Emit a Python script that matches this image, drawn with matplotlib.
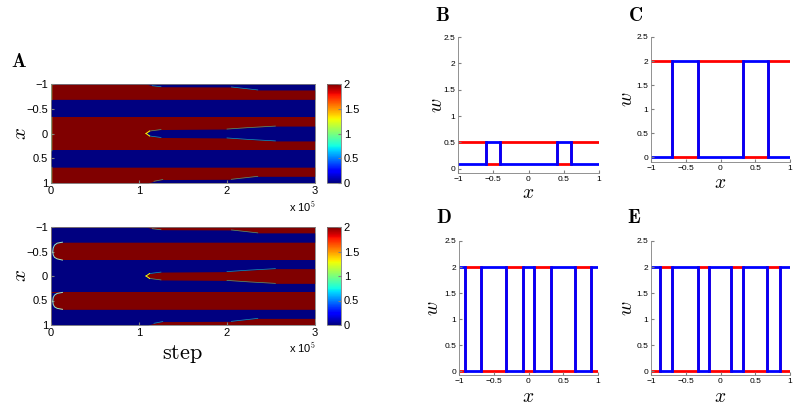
import numpy as np
import matplotlib
matplotlib.use('Agg')
import matplotlib.pyplot as plt
from matplotlib import cm, colors

plt.rcParams['mathtext.fontset'] = 'cm'
plt.rcParams['font.family'] = ['Liberation Sans', 'DejaVu Sans']

################################################################################
# panel A: band layout of the two space-time plots (x vs step)

band_x = [-0.69, -0.325, 0.335, 0.68]
top_edge_step = [0, 1.08e5, 1.15e5, 1.25e5, 2.05e5, 2.35e5, 3.0e5]
top_edge_x = [-1, -1, -0.965, -0.945, -0.94, -0.88, -0.88]
bot_edge_step = [0, 1.10e5, 1.17e5, 1.27e5, 2.05e5, 2.35e5, 3.0e5]
bot_edge_x = [1, 1, 0.965, 0.93, 0.925, 0.865, 0.865]
split_step = [1.08e5, 1.12e5, 1.25e5, 2.0e5, 2.25e5, 2.55e5, 3.0e5]
split_half = [0, 0.05, 0.08, 0.09, 0.12, 0.15, 0.15]
front1_x = [-0.69, -0.67, -0.63, -0.57, -0.5, -0.43, -0.38, -0.35, -0.325]
front2_x = [0.335, 0.355, 0.39, 0.44, 0.51, 0.58, 0.63, 0.66, 0.68]
front_step = [0.13e5, 0.07e5, 0.04e5, 0.025e5, 0.02e5, 0.025e5, 0.04e5, 0.07e5, 0.13e5]
step_ticks = [0, 1e5, 2e5, 3e5]
step_labels = ['0', '1', '2', '3']
xpos_ticks = [-1, -0.5, 0, 0.5, 1]
xpos_labels = ['\u22121', '\u22120.5', '0', '0.5', '1']

# panels B-E: w profiles (piecewise constant)
B_edges = [-1, -0.6, -0.4, 0.4, 0.6, 1]
B_red = [0.5, 0.1, 0.5, 0.1, 0.5]
B_blue = [0.1, 0.5, 0.1, 0.5, 0.1]
C_edges = [-1, -0.7, -0.33, 0.33, 0.68, 1]
C_red = [2, 0, 2, 0, 2]
C_blue = [0, 2, 0, 2, 0]
D_edges = [-1, -0.92, -0.68, -0.33, -0.085, 0.085, 0.33, 0.67, 0.9, 1]
D_red = [0, 2, 0, 2, 0, 2, 0, 2, 0]
D_blue = [2, 0, 2, 0, 2, 0, 2, 0, 2]
E_edges = [-1, -0.87, -0.7, -0.33, -0.16, 0.15, 0.33, 0.67, 0.86, 1]
E_red = [0, 2, 0, 2, 0, 2, 0, 2, 0]
E_blue = [2, 0, 2, 0, 2, 0, 2, 0, 2]
w_ticks = [0, 0.5, 1, 1.5, 2, 2.5]
w_labels = ['0', '0.5', '1', '1.5', '2', '2.5']

################################################################################

W, H = 800, 409
fig = plt.figure(figsize=(W / 100, H / 100), dpi=100)

def px_axes(l, t, r, b):
    return fig.add_axes([l / W, 1 - b / H, (r - l) / W, (b - t) / H])

def px_text(x, y, s, **kw):
    fig.text(x / W, 1 - y / H, s, ha='center', va='center', **kw)

jet = matplotlib.colormaps['jet']
norm = colors.Normalize(0, 2)
red_c = jet(norm(2))
blue_c = jet(norm(0))
streak = jet(0.4)
grey = '#808080'

def style_heat(ax):
    ax.set_xlim(0, 3e5)
    ax.set_ylim(1, -1)
    ax.set_xticks(step_ticks)
    ax.set_xticklabels(step_labels)
    ax.set_yticks(xpos_ticks)
    ax.set_yticklabels(xpos_labels)
    ax.tick_params(direction='in', length=2.5, labelsize=8, color=grey, pad=2)
    for s in ax.spines.values():
        s.set_color(grey)
        s.set_linewidth(0.6)

def draw_bands(ax, fg, bg):
    ax.set_facecolor(bg)
    ax.fill_between(top_edge_step, top_edge_x, band_x[0], color=fg, lw=0)
    ax.fill_between([0, 3e5], band_x[1], band_x[2], color=fg, lw=0)
    ax.fill_between(split_step, -np.array(split_half), split_half, color=bg, lw=0)
    ax.fill_between(bot_edge_step, band_x[3], bot_edge_x, color=fg, lw=0)
    # faint transition streaks where fronts move
    kw = dict(color=streak, lw=0.5, alpha=0.6)
    for sl in (slice(2, 4), slice(4, 6)):
        ax.plot(top_edge_step[sl], top_edge_x[sl], **kw)
        ax.plot(bot_edge_step[sl], bot_edge_x[sl], **kw)
    for sl in (slice(1, 3), slice(3, 6)):
        ax.plot(split_step[sl], split_half[sl], **kw)
        ax.plot(split_step[sl], -np.array(split_half[sl]), **kw)
    ax.plot(split_step[:2], split_half[:2], color='yellow', lw=0.7)
    ax.plot(split_step[:2], -np.array(split_half[:2]), color='yellow', lw=0.7)

# A top
axA1 = px_axes(51, 84, 315, 183)
draw_bands(axA1, red_c, blue_c)
for lo, hi in ((-1, band_x[0]), (band_x[1], band_x[2]), (band_x[3], 1)):
    axA1.plot([0.004e5, 0.004e5], [lo, hi], color=jet(0.55), lw=1.0)
style_heat(axA1)

# A bottom
axA2 = px_axes(51, 227, 315, 325)
draw_bands(axA2, blue_c, red_c)
axA2.fill_betweenx(front1_x, 0, front_step, color=blue_c, lw=0)
axA2.fill_betweenx(front2_x, 0, front_step, color=blue_c, lw=0)
axA2.plot(front_step, front1_x, color='#a0e8c0', lw=0.7)
axA2.plot(front_step, front2_x, color='#a0e8c0', lw=0.7)
style_heat(axA2)

for t, b in ((84, 183), (227, 325)):
    cax = px_axes(327, t, 341, b)
    cb = fig.colorbar(cm.ScalarMappable(norm=norm, cmap=jet), cax=cax)
    cb.set_ticks([0, 0.5, 1, 1.5, 2])
    cb.set_ticklabels(['0', '0.5', '1', '1.5', '2'])
    cb.ax.tick_params(direction='in', length=2, labelsize=8, color=grey, pad=2)
    cb.outline.set_edgecolor(grey)
    cb.outline.set_linewidth(0.6)

px_text(21, 133, r'$x$', fontsize=15, rotation=90)
px_text(21, 275, r'$x$', fontsize=15, rotation=90)
px_text(182, 354, r'$\mathrm{step}$', fontsize=16)
px_text(302, 207, r'x 10$^5$', fontsize=8)
px_text(302, 348, r'x 10$^5$', fontsize=8)
px_text(19, 62, r'$\mathbf{A}$', fontsize=14)

# panels B-E
panels = [
    ('B', (458, 37, 599, 173), -0.08, B_edges, B_red, B_blue, (442, 16), 437, 193),
    ('C', (651, 37, 790, 162), -0.10, C_edges, C_red, C_blue, (635, 16), 628, 183),
    ('D', (459, 241, 598, 375), -0.07, D_edges, D_red, D_blue, (444, 218), 433, 397),
    ('E', (651, 241, 790, 375), -0.07, E_edges, E_red, E_blue, (634, 218), 628, 397),
]
for name, box, ylo, edges, red, blue, lpos, wx, xy in panels:
    ax = px_axes(*box)
    ax.stairs(red, edges, baseline=None, color='red', lw=2)
    ax.stairs(blue, edges, baseline=None, color='blue', lw=2)
    ax.set_xlim(-1, 1)
    ax.set_ylim(ylo, 2.5)
    ax.set_xticks(xpos_ticks)
    ax.set_xticklabels(xpos_labels)
    ax.set_yticks(w_ticks)
    ax.set_yticklabels(w_labels)
    ax.tick_params(direction='in', length=2, labelsize=6, color=grey, pad=2)
    for s in ('top', 'right'):
        ax.spines[s].set_visible(False)
    for s in ('left', 'bottom'):
        ax.spines[s].set_color(grey)
        ax.spines[s].set_linewidth(0.6)
    cx = (box[0] + box[2]) / 2
    cy = (box[1] + box[3]) / 2
    px_text(cx, xy, r'$x$', fontsize=14)
    px_text(wx, cy, r'$w$', fontsize=14, rotation=90)
    px_text(lpos[0], lpos[1], r'$\mathbf{%s}$' % name, fontsize=14)

fig.savefig('out.png', dpi=100)
